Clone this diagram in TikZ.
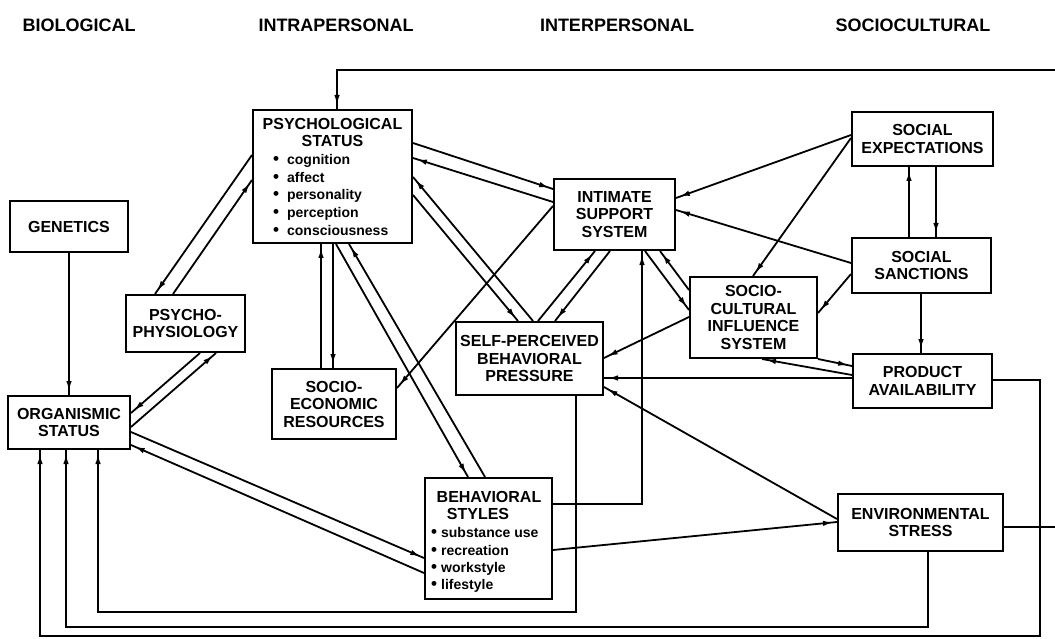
\documentclass[tikz,border=0pt]{standalone}
\usepackage{fontspec}
\setmainfont{Liberation Sans}
\usetikzlibrary{arrows.meta,decorations.markings}
\newcommand{\myboxfont}{\fontsize{16}{17.5}\selectfont\bfseries}
\newcommand{\myhdrfont}{\fontsize{18}{20}\selectfont\bfseries}
\newcommand{\mybulfont}{\fontsize{14}{16}\selectfont\bfseries}
\newcommand{\bdot}{{\fontsize{17}{16}\selectfont •}}
\newcommand{\bx}[6]{\node[box, minimum width={(#4-#2)*1pt}, minimum height={(#5-#3)*1pt}] (#1) at ({(#2+#4)/2},{(#3+#5)/2}) {#6};}
\tikzset{
  box/.style={draw, line width=2pt, rectangle, inner sep=0pt, align=center, font=\myboxfont},
  hdr/.style={inner sep=0pt, font=\myhdrfont, anchor=base},
  ttl/.style={inner sep=0pt, font=\myboxfont, anchor=base},
  bul/.style={inner sep=0pt, font=\mybulfont, anchor=base west},
  conn/.style={line width=1.8pt},
  arr/.style={conn, postaction={decorate}, decoration={markings, mark=at position -4pt with {\arrow{Latex[length=10pt,width=5.5pt]}}}},
}
\begin{document}
\begin{tikzpicture}[x=1pt,y=-1pt]
\useasboundingbox (0,0) rectangle (1055,639);
% headers
\node[hdr] (hbio) at (79,32) {BIOLOGICAL};
\node[hdr] (hintra) at (336,32) {INTRAPERSONAL};
\node[hdr] (hinter) at (617,32) {INTERPERSONAL};
\node[hdr] (hsocio) at (913,32) {SOCIOCULTURAL};
% boxes
\bx{genetics}{10}{201}{128}{252}{GENETICS}
\bx{organismic}{8}{396}{130}{449}{ORGANISMIC\\STATUS}
\bx{psychophys}{126}{295}{245}{352}{PSYCHO-\\PHYSIOLOGY}
\bx{psych}{253}{110}{412}{243}{}
\bx{socioecon}{272}{369}{396}{439}{SOCIO-\\ECONOMIC\\RESOURCES}
\bx{behav}{425}{478}{552}{599}{}
\bx{selfperc}{456}{322}{603}{395}{SELF-PERCEIVED\\BEHAVIORAL\\PRESSURE}
\bx{intimate}{554}{179}{675}{250}{INTIMATE\\SUPPORT\\SYSTEM}
\bx{sociocult}{690}{277}{817}{358}{SOCIO-\\CULTURAL\\INFLUENCE\\SYSTEM}
\bx{expect}{852}{112}{993}{166}{SOCIAL\\EXPECTATIONS}
\bx{sanctions}{852}{238}{991}{293}{SOCIAL\\SANCTIONS}
\bx{product}{853}{354}{992}{408}{PRODUCT\\AVAILABILITY}
\bx{env}{838}{494}{1003}{551}{ENVIRONMENTAL\\STRESS}
% psych text
\node[ttl] (pt1) at (332.5,130) {PSYCHOLOGICAL};
\node[ttl] (pt2) at (332.5,147) {STATUS};
\node[bul] (pb1) at (273,165) {\bdot\hspace{8pt}cognition};
\node[bul] (pb2) at (273,183) {\bdot\hspace{8pt}affect};
\node[bul] (pb3) at (273,200) {\bdot\hspace{8pt}personality};
\node[bul] (pb4) at (273,218) {\bdot\hspace{8pt}perception};
\node[bul] (pb5) at (273,236) {\bdot\hspace{8pt}consciousness};
% behav text
\node[ttl] (bt1) at (489,502) {BEHAVIORAL};
\node[ttl] (bt2) at (478,519) {STYLES};
\node[bul] (bb1) at (431,537) {\bdot\hspace{4pt}substance use};
\node[bul] (bb2) at (431,555) {\bdot\hspace{4pt}recreation};
\node[bul] (bb3) at (431,572) {\bdot\hspace{4pt}workstyle};
\node[bul] (bb4) at (431,589) {\bdot\hspace{4pt}lifestyle};
% connectors
\draw[arr] (genetics.south) -- (genetics.south |- organismic.north);
\draw[arr] (psych.west |- 0,155) -- (155,0 |- psychophys.north);
\draw[arr] (173,0 |- psychophys.north) -- (psych.west |- 0,180);
\draw[arr] (200,0 |- psychophys.south) -- (organismic.east |- 0,413);
\draw[arr] (organismic.east |- 0,427) -- (216,0 |- psychophys.south);
\draw[arr] (organismic.east |- 0,432) -- (behav.west |- 0,558);
\draw[arr] (behav.west |- 0,573) -- (organismic.east |- 0,445);
\draw[arr] (321,0 |- socioecon.north) -- (321,0 |- psych.south);
\draw[arr] (333,0 |- psych.south) -- (333,0 |- socioecon.north);
\draw[arr] (336,0 |- psych.south) -- (468,0 |- behav.north);
\draw[arr] (485,0 |- behav.north) -- (349,0 |- psych.south);
\draw[arr] (psych.east |- 0,143) -- (intimate.west |- 0,189);
\draw[arr] (intimate.west |- 0,202) -- (psych.east |- 0,158);
\draw[arr] (533,0 |- selfperc.north) -- (psych.east |- 0,177);
\draw[arr] (psych.east |- 0,195) -- (518,0 |- selfperc.north);
\draw[arr] (intimate.west |- 0,206) -- (socioecon.east |- 0,388);
\draw[arr] (538,0 |- selfperc.north) -- (595,0 |- intimate.south);
\draw[arr] (610,0 |- intimate.south) -- (555,0 |- selfperc.north);
\draw[arr] (645,0 |- intimate.south) -- (sociocult.west |- 0,310);
\draw[arr] (sociocult.west |- 0,290) -- (660,0 |- intimate.south);
\draw[arr] (expect.west |- 0,135) -- (intimate.east |- 0,198);
\draw[arr] (sanctions.west |- 0,263) -- (intimate.east |- 0,210);
\draw[arr] (expect.west |- 0,138) -- (753,0 |- sociocult.north);
\draw[arr] (sanctions.west |- 0,274) -- (sociocult.east |- 0,313);
\draw[arr] (909,0 |- sanctions.north) -- (909,0 |- expect.south);
\draw[arr] (936,0 |- expect.south) -- (936,0 |- sanctions.north);
\draw[arr] (921,0 |- sanctions.south) -- (921,0 |- product.north);
\draw[arr] (product.west |- 0,375) -- (762,0 |- sociocult.south);
\draw[arr] (sociocult.south east) -- (product.west |- 0,366);
\draw[arr] (product.west |- 0,378) -- (selfperc.east |- 0,378);
\draw[arr] (sociocult.west |- 0,317) -- (selfperc.east |- 0,358);
\draw[arr] (env.west |- 0,519) -- (selfperc.east |- 0,387);
\draw[arr] (behav.east |- 0,550) -- (env.west |- 0,522);
\draw[arr] (behav.east |- 0,504) -| (642,0 |- intimate.south);
\draw[arr] (576,0 |- selfperc.south) |- (98,612) -- (98,0 |- organismic.south);
\draw[arr] (928,0 |- env.south) |- (66,627) -- (66,0 |- organismic.south);
\draw[arr] (product.east |- 0,380) -| (1040,636) -| (40,0 |- organismic.south);
\coordinate (offtop) at (1055,70);
\coordinate (offenv) at (1055,527);
\draw[arr] (offtop) -| (337,0 |- psych.north);
\draw[conn] (env.east |- 0,527) -- (offenv);
\end{tikzpicture}
\end{document}
